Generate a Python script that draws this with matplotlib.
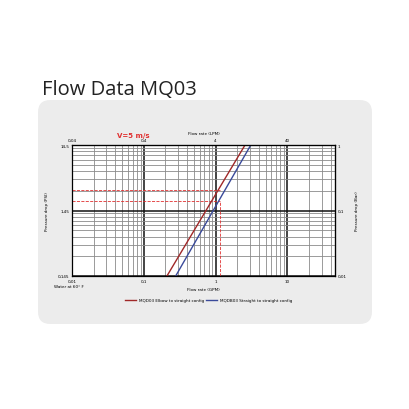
import matplotlib.pyplot as plt
from matplotlib.patches import FancyBboxPatch
from matplotlib.ticker import NullLocator

# curve end points (GPM, PSI)
red_gpm = [0.21, 2.57]
blue_gpm = [0.278, 3.09]
psi_ends = [0.145, 14.5]
# operating point marks
mark_psi = [3.03, 2.0]
mark_gpm = 1.15

x_ticks = [0.01, 0.1, 1, 10]
x_labels = ["0,01", "0,1", "1", "10"]
top_labels = ["0,04", "0,4", "4", "40"]
y_ticks = [0.145, 1.45, 14.5]
y_labels = ["0,145", "1,45", "14,5"]
right_labels = ["0,01", "0,1", "1"]

fig = plt.figure(figsize=(4.1, 4.1), dpi=100)
fig.patches.append(FancyBboxPatch((38 / 410, 85 / 410), 334 / 410, 224 / 410,
                                  boxstyle="round,pad=0,rounding_size=0.03",
                                  transform=fig.transFigure, fc="#ececec", ec="none",
                                  zorder=-10))
fig.text(42 / 410, 1 - 90 / 410, "Flow Data MQ03", fontsize=14.5, va="center",
         color="#222222", family="Open Sans")

ax = fig.add_axes([72 / 410, 1 - 277 / 410, 263 / 410, 131 / 410])
ax.set_facecolor("white")
ax.set_xscale("log")
ax.set_yscale("log")
ax.set_xlim(0.01, 46)
ax.set_ylim(0.145, 14.5)

# grid
for d in [0.01, 0.1, 1, 10]:
    for m in range(1, 10):
        v = d * m
        if v <= 46:
            ax.axvline(v, color="#111111" if m == 1 else "#8a8a8a", lw=1.1 if m == 1 else 0.6)
for d in [0.145, 1.45]:
    for m in range(1, 10):
        ax.axhline(d * m, color="#111111" if m == 1 else "#8a8a8a", lw=1.1 if m == 1 else 0.6)

ax.plot([0.01, mark_gpm], [mark_psi[0]] * 2, color="#e03030", ls="--", lw=0.6)
ax.plot([0.01, mark_gpm], [mark_psi[1]] * 2, color="#e03030", ls="--", lw=0.6)
ax.plot([mark_gpm] * 2, [0.145, mark_psi[1]], color="#e03030", ls="--", lw=0.6)

ax.plot(red_gpm, psi_ends, color="#a02828", lw=1.0, label="MQD03 Elbow to straight config")
ax.plot(blue_gpm, psi_ends, color="#3a4a9a", lw=1.0, label="MQDB03 Straight to straight config")

ax.minorticks_off()
ax.set_xticks(x_ticks, x_labels)
ax.set_yticks(y_ticks, y_labels)
ax.tick_params(labelsize=3, length=0, pad=2)
ax.set_xlabel("Flow rate (GPM)", fontsize=3, labelpad=3)
ax.set_ylabel("Pressure drop (PSI)", fontsize=3, labelpad=6)
for s in ax.spines.values():
    s.set_linewidth(0.9)

top = ax.secondary_xaxis("top")
top.set_xticks(x_ticks, top_labels)
top.xaxis.set_minor_locator(NullLocator())
top.tick_params(labelsize=3, length=0, pad=2)
top.set_xlabel("Flow rate (LPM)", fontsize=3, labelpad=3)

right = ax.secondary_yaxis("right")
right.set_yticks(y_ticks, right_labels)
right.yaxis.set_minor_locator(NullLocator())
right.tick_params(labelsize=3, length=0, pad=2)
right.set_ylabel("Pressure drop (Bar)", fontsize=3, labelpad=6)

ax.text(0.17, 1.08, "V=5 m/s", transform=ax.transAxes, color="#e03030",
        fontsize=5, fontweight="bold", va="center")
ax.text(-0.07, -0.08, "Water at 60° F", transform=ax.transAxes, fontsize=3, va="center")
ax.legend(loc="upper center", bbox_to_anchor=(0.52, -0.14), ncol=2, fontsize=3,
          frameon=False, handlelength=2.5, columnspacing=0.5)

fig.savefig("out.png", dpi=100)
